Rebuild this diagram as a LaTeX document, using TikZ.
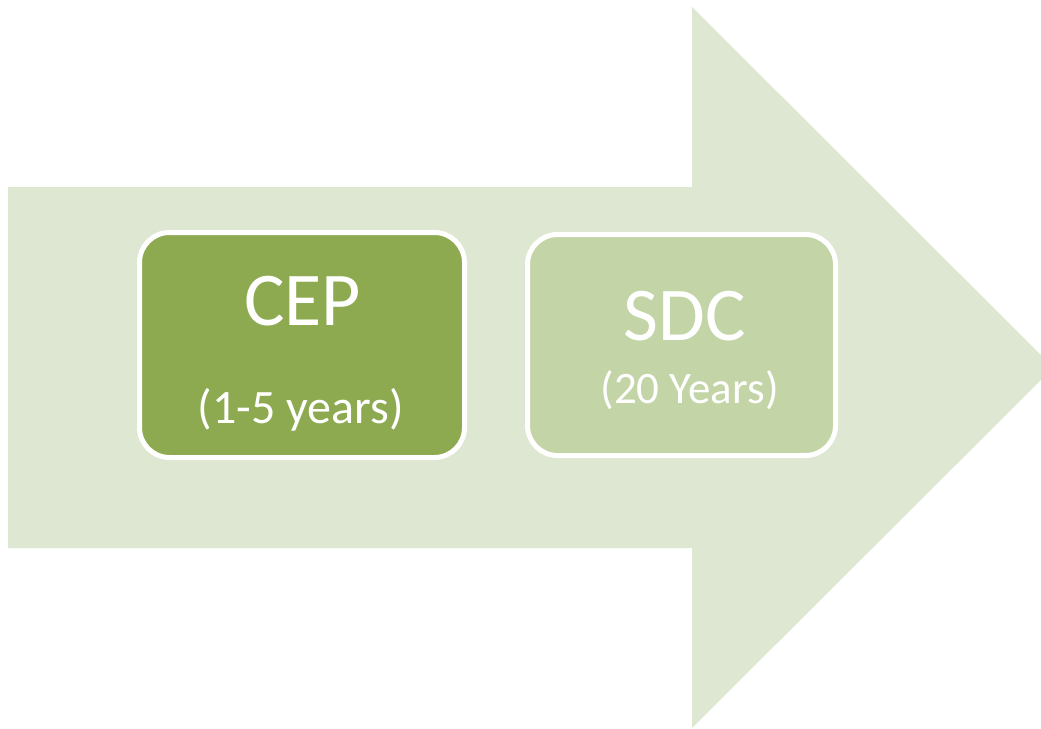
\documentclass[tikz,border=0pt]{standalone}
\usepackage{fontspec}
\setmainfont{Carlito}
\definecolor{arrowbg}{HTML}{DEE7D1}
\definecolor{cepfill}{HTML}{8EAA51}
\definecolor{sdcfill}{HTML}{C3D4A6}
\begin{document}
\begin{tikzpicture}[x=1pt,y=-1pt,
  stagebox/.style={draw=white, line width=5pt, rounded corners=30pt},
  bigtxt/.style={text=white, font=\fontsize{76}{78}\selectfont, anchor=base, inner sep=0pt},
  smalltxt/.style={text=white, font=\fontsize{45}{48}\selectfont, anchor=base, inner sep=0pt}]
\useasboundingbox (0,0) rectangle (1041,728);
\begin{scope}
\clip (0,0) rectangle (1041,728);
\fill[arrowbg] (8,187) -- (692,187) -- (692,7) -- (1053.5,367.5) -- (692,728) -- (692,548) -- (8,548) -- cycle;
\end{scope}
\draw[stagebox, fill=cepfill] (139.5,232.5) rectangle (464.5,457.5);
\node[stagebox, draw=none, minimum width=325pt, minimum height=225pt] (cep) at (302,345) {};
\draw[stagebox, fill=sdcfill] (527.5,234.5) rectangle (835.5,455.5);
\node[stagebox, draw=none, minimum width=308pt, minimum height=221pt] (sdc) at (681.5,345) {};
\node[bigtxt] (ceplabel) at (302.5,325) {CEP};
\node[smalltxt, font=\fontsize{48}{50}\selectfont] (cepyears) at (301,423) {(1-5 years)};
\node[bigtxt] (sdclabel) at (684.5,340) {SDC};
\node[smalltxt] (sdcyears) at (689.5,403) {(20 Years)};
\end{tikzpicture}
\end{document}
